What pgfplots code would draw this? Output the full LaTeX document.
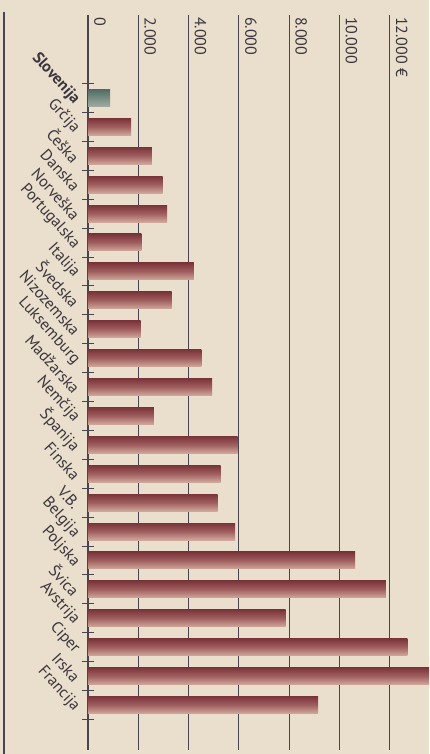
\documentclass[border=0pt]{standalone}
\usepackage{fontspec}
\setmainfont{PT Sans}
\usepackage{pgfplots}
\pgfplotsset{compat=1.18}
\definecolor{paper}{RGB}{234,222,204}
\definecolor{gridc}{RGB}{72,68,80}
\definecolor{bardark}{RGB}{122,52,58}
\definecolor{barmid}{RGB}{160,95,95}
\definecolor{barlight}{RGB}{208,168,155}
\definecolor{slodark}{RGB}{80,108,104}
\definecolor{slolight}{RGB}{160,172,160}
\definecolor{txt}{RGB}{58,54,60}
\pgfplotsset{
  mybar/.style={xbar, bar width=17pt, bar shift=0pt, draw=none, top color=bardark, bottom color=barlight, middle color=barmid},
}
\begin{document}
\begin{tikzpicture}[x=1pt,y=1pt]
\fill[paper] (0,0) rectangle (429,754);
\path[use as bounding box] (0,0) rectangle (429,754);
\draw[gridc, line width=1.2pt] (4,0) -- (4,742);
\begin{axis}[
  at={(88pt,739pt)}, anchor=north west,
  scale only axis, width=341pt, height=735pt,
  xmin=0, xmax=13560, ymin=-2.87, ymax=22.56, y dir=reverse,
  axis line style={draw=none},
  scaled x ticks=false,
  xtick={0,2000,4000,6000,8000,10000,12000},
  xticklabels={0,2.000,4.000,6.000,8.000,10.000,12.000 €},
  xticklabel pos=right,
  xmajorgrids, grid style={gridc, line width=1.2pt},
  major x tick style={draw=none},
  xticklabel style={rotate=-90, anchor=south west, inner xsep=4pt, inner ysep=6pt, font=\fontsize{16}{16}\selectfont, text=txt},
  ytick={0,...,21},
  yticklabels={\textbf{Slovenija},Grčija,Češka,Danska,Norveška,Portugalska,Italija,Švedska,Nizozemska,Luksemburg,Madžarska,Nemčija,Španija,Finska,V.B.,Belgija,Poljska,Švica,Avstrija,Ciper,Irska,Francija},
  major y tick style={draw=none},
  ytick pos=left,
  yticklabel style={inner sep=0pt, xshift=-9pt, yshift=-4pt, rotate=-48, anchor=east, font=\fontsize{16}{16}\selectfont, text=txt},
  minor ytick={-0.5,0.5,...,21.5},
  minor tick length=12pt, tick align=center,
  minor y tick style={gridc, line width=0.8pt},
  /pgf/number format/assume math mode=true,
]
\addplot[xbar, bar width=17pt, bar shift=0pt, draw=none, top color=slodark, bottom color=slolight] coordinates {(880,0)};
\addplot[mybar] coordinates {(1710,1)};
\addplot[mybar] coordinates {(2540,2)};
\addplot[mybar] coordinates {(2970,3)};
\addplot[mybar] coordinates {(3150,4)};
\addplot[mybar] coordinates {(2120,5)};
\addplot[mybar] coordinates {(4210,6)};
\addplot[mybar] coordinates {(3330,7)};
\addplot[mybar] coordinates {(2090,8)};
\addplot[mybar] coordinates {(4510,9)};
\addplot[mybar] coordinates {(4940,10)};
\addplot[mybar] coordinates {(2620,11)};
\addplot[mybar] coordinates {(5950,12)};
\addplot[mybar] coordinates {(5270,13)};
\addplot[mybar] coordinates {(5150,14)};
\addplot[mybar] coordinates {(5850,15)};
\addplot[mybar] coordinates {(10620,16)};
\addplot[mybar] coordinates {(11840,17)};
\addplot[mybar] coordinates {(7860,18)};
\addplot[mybar] coordinates {(12700,19)};
\addplot[mybar] coordinates {(13810,20)};
\addplot[mybar] coordinates {(9150,21)};
\end{axis}
\end{tikzpicture}
\end{document}
